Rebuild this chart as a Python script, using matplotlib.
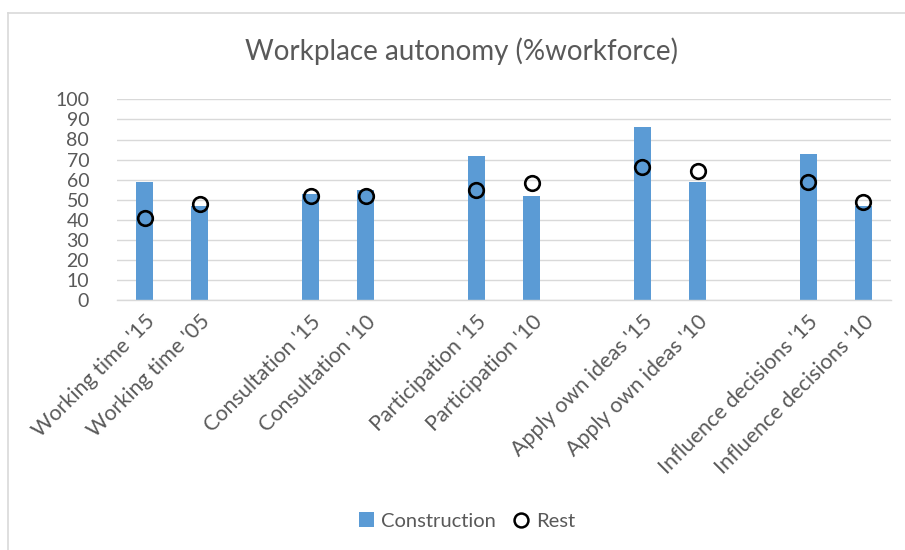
import matplotlib
matplotlib.use("Agg")
import matplotlib.pyplot as plt
from matplotlib.lines import Line2D
from matplotlib.patches import Patch
import numpy as np

plt.rcParams['font.family'] = ['Lato', 'DejaVu Sans']

categories = ["Working time '15", "Working time '05", "",
              "Consultation '15", "Consultation '10", "",
              "Participation '15", "Participation '10", "",
              "Apply own ideas '15", "Apply own ideas '10", "",
              "Influence decisions '15", "Influence decisions '10"]
construction = [59, 47, None, 53, 55, None, 72, 52, None, 86, 59, None, 73, 47]
rest = [41, 48, None, 52, 52, None, 55, 58.5, None, 66.3, 64.3, None, 59, 49]
yticks = list(range(0, 101, 10))

W, H = 905, 550
fig = plt.figure(figsize=(W/100, H/100), dpi=100)
ax = fig.add_axes([117/W, 1-300.3/H, (891-117)/W, 201/H])

x = np.arange(len(categories))
cx = [i for i, v in zip(x, construction) if v is not None]
cv = [v for v in construction if v is not None]
rx = [i for i, v in zip(x, rest) if v is not None]
rv = [v for v in rest if v is not None]

ax.bar(cx, cv, width=0.31, color='#5B9BD5', zorder=2)
ax.plot(rx, rv, linestyle='none', marker='o', markersize=10.5,
        markerfacecolor='none', markeredgecolor='black', markeredgewidth=1.9, zorder=3)

ax.set_xlim(-0.5, len(categories)-0.5)
ax.set_ylim(0, 100)
ax.set_yticks(yticks)
ax.yaxis.grid(True, color='#D9D9D9', linewidth=1)
ax.set_axisbelow(True)
for s in ['top', 'right', 'left']:
    ax.spines[s].set_visible(False)
ax.spines['bottom'].set_color('#D9D9D9')
ax.spines['bottom'].set_linewidth(1)
ax.tick_params(axis='both', length=0, colors='#595959', labelsize=14)
ax.tick_params(axis='y', pad=20)
ax.set_xticks(x)
ax.set_xticklabels(categories, rotation=45, ha='right', va='top',
                   rotation_mode='anchor', fontsize=15.5)
ax.tick_params(axis='x', pad=8)

fig.text(461/W, 1-51/H, 'Workplace autonomy (%workforce)', ha='center', va='center',
         fontsize=20, color='#595959')

handles = [Patch(facecolor='#5B9BD5', edgecolor='none'),
           Line2D([], [], linestyle='none', marker='o', markersize=10,
                  markerfacecolor='none', markeredgecolor='black', markeredgewidth=1.8)]
fig.legend(handles, ['Construction', 'Rest'], loc='center', bbox_to_anchor=(467/W, 1-521/H),
           ncol=2, frameon=False, fontsize=14.5, labelcolor='#595959',
           handlelength=0.75, handleheight=0.75, handletextpad=0.35, columnspacing=0.9)

# chart border (left and top visible)
fig.add_artist(Line2D([7.5/W, 7.5/W], [0, 1-12.5/H], color='#D9D9D9', linewidth=1.2))
fig.add_artist(Line2D([7.5/W, 1], [1-12.5/H, 1-12.5/H], color='#D9D9D9', linewidth=1.2))

fig.savefig('out.png', dpi=100)
